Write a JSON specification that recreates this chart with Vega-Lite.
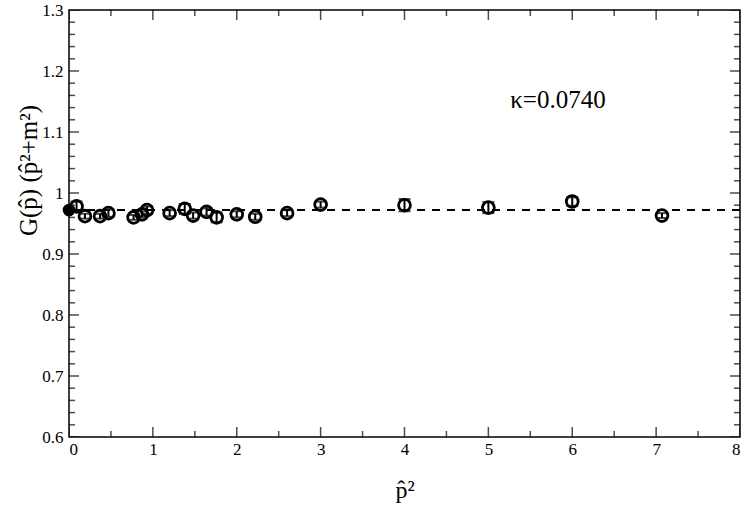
{
  "$schema": "https://vega.github.io/schema/vega-lite/v6.json",
  "width": 671,
  "height": 427,
  "autosize": {"type": "none"},
  "padding": {"left": 69, "top": 10, "right": 7, "bottom": 69},
  "config": {
    "view": {"stroke": "black", "strokeWidth": 1.5},
    "font": "Liberation Serif",
    "axis": {"domain": false, "ticks": false, "grid": false, "labelFont": "Liberation Serif", "titleFont": "Liberation Serif", "labelColor": "black", "titleColor": "black", "titleFontWeight": "normal"}
  },
  "datasets": {
    "pts": [
      {"p2": 0.09, "g": 0.978, "lo": 0.970, "hi": 0.986},
      {"p2": 0.19, "g": 0.962, "lo": 0.958, "hi": 0.966},
      {"p2": 0.37, "g": 0.962, "lo": 0.958, "hi": 0.966},
      {"p2": 0.47, "g": 0.967, "lo": 0.961, "hi": 0.973},
      {"p2": 0.77, "g": 0.960, "lo": 0.956, "hi": 0.964},
      {"p2": 0.87, "g": 0.965, "lo": 0.960, "hi": 0.970},
      {"p2": 0.93, "g": 0.972, "lo": 0.966, "hi": 0.978},
      {"p2": 1.20, "g": 0.967, "lo": 0.962, "hi": 0.972},
      {"p2": 1.38, "g": 0.974, "lo": 0.966, "hi": 0.982},
      {"p2": 1.48, "g": 0.963, "lo": 0.958, "hi": 0.968},
      {"p2": 1.64, "g": 0.969, "lo": 0.963, "hi": 0.975},
      {"p2": 1.76, "g": 0.960, "lo": 0.952, "hi": 0.968},
      {"p2": 2.00, "g": 0.965, "lo": 0.960, "hi": 0.970},
      {"p2": 2.22, "g": 0.961, "lo": 0.956, "hi": 0.966},
      {"p2": 2.60, "g": 0.967, "lo": 0.962, "hi": 0.972},
      {"p2": 3.00, "g": 0.981, "lo": 0.976, "hi": 0.986},
      {"p2": 4.00, "g": 0.980, "lo": 0.970, "hi": 0.990},
      {"p2": 5.00, "g": 0.976, "lo": 0.967, "hi": 0.985},
      {"p2": 6.00, "g": 0.986, "lo": 0.979, "hi": 0.993},
      {"p2": 7.07, "g": 0.963, "lo": 0.959, "hi": 0.967}
    ],
    "extrap": [{"p2": 0, "g": 0.972}],
    "fit": [{"g": 0.972}],
    "label": [{"p2": 5.26, "g": 1.139, "text": "κ=0.0740"}],
    "ymajor": [{"v": 0.6}, {"v": 0.7}, {"v": 0.8}, {"v": 0.9}, {"v": 1.0}, {"v": 1.1}, {"v": 1.2}, {"v": 1.3}],
    "yminor": [{"v": 0.62}, {"v": 0.64}, {"v": 0.66}, {"v": 0.68}, {"v": 0.72}, {"v": 0.74}, {"v": 0.76}, {"v": 0.78}, {"v": 0.82}, {"v": 0.84}, {"v": 0.86}, {"v": 0.88}, {"v": 0.92}, {"v": 0.94}, {"v": 0.96}, {"v": 0.98}, {"v": 1.02}, {"v": 1.04}, {"v": 1.06}, {"v": 1.08}, {"v": 1.12}, {"v": 1.14}, {"v": 1.16}, {"v": 1.18}, {"v": 1.22}, {"v": 1.24}, {"v": 1.26}, {"v": 1.28}],
    "xmajor": [{"v": 0}, {"v": 1}, {"v": 2}, {"v": 3}, {"v": 4}, {"v": 5}, {"v": 6}, {"v": 7}, {"v": 8}],
    "xminor": [{"v": 0.5}, {"v": 1.5}, {"v": 2.5}, {"v": 3.5}, {"v": 4.5}, {"v": 5.5}, {"v": 6.5}, {"v": 7.5}]
  },
  "layer": [
    {
      "data": {"name": "ymajor"},
      "mark": {"type": "tick", "orient": "horizontal", "color": "black", "size": 20, "thickness": 1.5, "clip": true},
      "encoding": {
        "x": {"datum": 0, "type": "quantitative", "scale": {"domain": [0, 8]}, "axis": null},
        "y": {"field": "v", "type": "quantitative", "scale": {"domain": [0.6, 1.3]}, "axis": null}
      }
    },
    {
      "data": {"name": "ymajor"},
      "mark": {"type": "tick", "orient": "horizontal", "color": "black", "size": 20, "thickness": 1.5, "clip": true},
      "encoding": {
        "x": {"datum": 8, "type": "quantitative", "scale": {"domain": [0, 8]}, "axis": null},
        "y": {"field": "v", "type": "quantitative", "scale": {"domain": [0.6, 1.3]}, "axis": null}
      }
    },
    {
      "data": {"name": "yminor"},
      "mark": {"type": "tick", "orient": "horizontal", "color": "black", "size": 12, "thickness": 1.5, "clip": true},
      "encoding": {
        "x": {"datum": 0, "type": "quantitative", "scale": {"domain": [0, 8]}, "axis": null},
        "y": {"field": "v", "type": "quantitative", "scale": {"domain": [0.6, 1.3]}, "axis": null}
      }
    },
    {
      "data": {"name": "yminor"},
      "mark": {"type": "tick", "orient": "horizontal", "color": "black", "size": 12, "thickness": 1.5, "clip": true},
      "encoding": {
        "x": {"datum": 8, "type": "quantitative", "scale": {"domain": [0, 8]}, "axis": null},
        "y": {"field": "v", "type": "quantitative", "scale": {"domain": [0.6, 1.3]}, "axis": null}
      }
    },
    {
      "data": {"name": "xmajor"},
      "mark": {"type": "tick", "orient": "vertical", "color": "black", "size": 20, "thickness": 1.5, "clip": true},
      "encoding": {
        "x": {"field": "v", "type": "quantitative", "scale": {"domain": [0, 8]}, "axis": null},
        "y": {"datum": 0.6, "type": "quantitative", "scale": {"domain": [0.6, 1.3]}, "axis": null}
      }
    },
    {
      "data": {"name": "xmajor"},
      "mark": {"type": "tick", "orient": "vertical", "color": "black", "size": 20, "thickness": 1.5, "clip": true},
      "encoding": {
        "x": {"field": "v", "type": "quantitative", "scale": {"domain": [0, 8]}, "axis": null},
        "y": {"datum": 1.3, "type": "quantitative", "scale": {"domain": [0.6, 1.3]}, "axis": null}
      }
    },
    {
      "data": {"name": "xminor"},
      "mark": {"type": "tick", "orient": "vertical", "color": "black", "size": 12, "thickness": 1.5, "clip": true},
      "encoding": {
        "x": {"field": "v", "type": "quantitative", "scale": {"domain": [0, 8]}, "axis": null},
        "y": {"datum": 0.6, "type": "quantitative", "scale": {"domain": [0.6, 1.3]}, "axis": null}
      }
    },
    {
      "data": {"name": "xminor"},
      "mark": {"type": "tick", "orient": "vertical", "color": "black", "size": 12, "thickness": 1.5, "clip": true},
      "encoding": {
        "x": {"field": "v", "type": "quantitative", "scale": {"domain": [0, 8]}, "axis": null},
        "y": {"datum": 1.3, "type": "quantitative", "scale": {"domain": [0.6, 1.3]}, "axis": null}
      }
    },
    {
      "data": {"name": "fit"},
      "mark": {"type": "rule", "color": "black", "strokeWidth": 2, "strokeDash": [8, 7]},
      "encoding": {
        "y": {"field": "g", "type": "quantitative", "scale": {"domain": [0.6, 1.3]}, "axis": null}
      }
    },
    {
      "data": {"name": "pts"},
      "mark": {"type": "rule", "color": "black", "strokeWidth": 2},
      "encoding": {
        "x": {"field": "p2", "type": "quantitative", "scale": {"domain": [0, 8]}, "axis": null},
        "y": {"field": "lo", "type": "quantitative", "scale": {"domain": [0.6, 1.3]}, "axis": null},
        "y2": {"field": "hi"}
      }
    },
    {
      "data": {"name": "pts"},
      "mark": {"type": "tick", "orient": "horizontal", "color": "black", "size": 12, "thickness": 2},
      "encoding": {
        "x": {"field": "p2", "type": "quantitative", "scale": {"domain": [0, 8]}, "axis": null},
        "y": {"field": "lo", "type": "quantitative", "scale": {"domain": [0.6, 1.3]}, "axis": null}
      }
    },
    {
      "data": {"name": "pts"},
      "mark": {"type": "tick", "orient": "horizontal", "color": "black", "size": 12, "thickness": 2},
      "encoding": {
        "x": {"field": "p2", "type": "quantitative", "scale": {"domain": [0, 8]}, "axis": null},
        "y": {"field": "hi", "type": "quantitative", "scale": {"domain": [0.6, 1.3]}, "axis": null}
      }
    },
    {
      "data": {"name": "pts"},
      "mark": {"type": "point", "shape": "circle", "filled": false, "stroke": "black", "strokeWidth": 2.8, "size": 140, "opacity": 1},
      "encoding": {
        "x": {"field": "p2", "type": "quantitative", "scale": {"domain": [0, 8]},
              "axis": {"orient": "bottom", "values": [0, 1, 2, 3, 4, 5, 6, 7, 8], "format": "d", "labelFontSize": 17, "labelPadding": 4,
                       "title": "p̂²", "titleFontSize": 24, "titleY": 60, "titleBaseline": "alphabetic"}},
        "y": {"field": "g", "type": "quantitative", "scale": {"domain": [0.6, 1.3]},
              "axis": {"orient": "left", "values": [0.6, 0.7, 0.8, 0.9, 1.0, 1.1, 1.2, 1.3], "labelFontSize": 17, "labelPadding": 6,
                       "labelExpr": "datum.value == 1 ? '1' : format(datum.value, '.1f')",
                       "title": "G(p̂) (p̂²+m²)", "titleFontSize": 25, "titleAngle": -90, "titleX": -41, "titleY": 160, "titleBaseline": "middle", "titleAlign": "center"}}
      }
    },
    {
      "data": {"name": "extrap"},
      "mark": {"type": "point", "shape": "circle", "filled": true, "color": "black", "size": 160, "opacity": 1},
      "encoding": {
        "x": {"field": "p2", "type": "quantitative", "scale": {"domain": [0, 8]}, "axis": null},
        "y": {"field": "g", "type": "quantitative", "scale": {"domain": [0.6, 1.3]}, "axis": null}
      }
    },
    {
      "data": {"name": "label"},
      "mark": {"type": "text", "align": "left", "baseline": "alphabetic", "fontSize": 25, "font": "Liberation Serif", "color": "black"},
      "encoding": {
        "x": {"field": "p2", "type": "quantitative", "scale": {"domain": [0, 8]}, "axis": null},
        "y": {"field": "g", "type": "quantitative", "scale": {"domain": [0.6, 1.3]}, "axis": null},
        "text": {"field": "text"}
      }
    }
  ],
  "resolve": {"axis": {"x": "independent", "y": "independent"}}
}
